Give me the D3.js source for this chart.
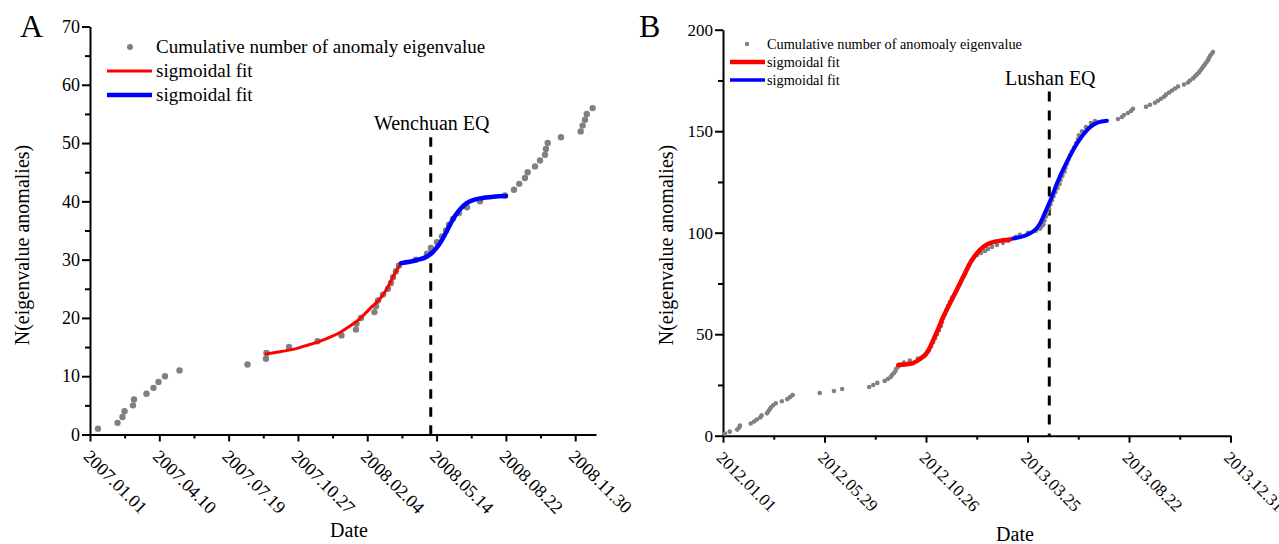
<!DOCTYPE html>
<html>
<head>
<meta charset="utf-8">
<script src="https://cdn.jsdelivr.net/npm/d3@7"></script>
<style>
body { margin: 0; background: #fff; }
svg { display: block; }
svg text { font-family: "Liberation Serif", "Times New Roman", serif; }
</style>
</head>
<body>
<svg id="chart" width="1279" height="544"></svg>
<script>
const FONT = '"Liberation Serif", "Times New Roman", serif';

// ---- panel A : Wenchuan (x = days since 2007.01.01) ----
const aTicks = [0, 100, 200, 300, 400, 500, 600, 700];
const aTickLabels = ["2007.01.01", "2007.04.10", "2007.07.19", "2007.10.27",
  "2008.02.04", "2008.05.14", "2008.08.22", "2008.11.30"];
const aYTicks = [0, 10, 20, 30, 40, 50, 60, 70];
const aPoints = [
  [11.5, 1], [39.7, 2], [46.9, 3], [49.8, 4], [62, 5], [63.5, 6], [81.5, 7], [91.6, 8],
  [98.8, 9], [108.2, 10], [129.1, 11], [227.2, 12], [253.9, 13], [254.6, 14], [287.1, 15],
  [328.2, 16], [362.8, 17], [383.7, 18], [384.5, 19], [390.9, 20], [410.4, 21], [412.6, 22],
  [415.5, 23], [422.7, 24], [429.9, 25], [434.2, 26], [437.1, 27], [441.4, 28], [445.8, 29],
  [470.3, 30], [486.2, 31], [491.9, 32], [500.6, 33], [507.8, 34], [513.6, 35], [517.9, 36],
  [523.7, 37], [532.3, 38], [543.9, 39], [562.6, 40], [598.7, 41], [611.7, 42], [619.3, 43],
  [627.5, 44], [631.4, 45], [642, 46], [649.2, 47], [656.4, 48], [657.8, 49], [660.3, 50],
  [679.5, 51], [707.9, 52], [710.8, 53], [714.1, 54], [716.7, 55], [725.2, 56]
];
const aRedFit = [
  [253.9, 13.8], [274.1, 14.2], [292.8, 14.6], [310.2, 15.2], [327.5, 15.8], [346.2, 16.7],
  [360.6, 17.5], [375, 18.6], [389.5, 19.9], [403.9, 21.6], [418.4, 23.3], [428.4, 25],
  [437.1, 27], [442.9, 28.3], [448.6, 29.3]
];
const aBlueFit = [
  [448.6, 29.4], [470.3, 29.9], [485.7, 30.5], [492.9, 31.1], [499.1, 31.9], [504.9, 32.8],
  [510.7, 34], [516.9, 35.4], [522.9, 36.8], [529, 37.9], [535.2, 38.8], [543.4, 39.7],
  [552.5, 40.2], [562.6, 40.5], [581.8, 40.8], [600.1, 40.9]
];
const aQuake = 491.6;

// ---- panel B : Lushan (x = days since 2012.01.01) ----
const bTicks = [0, 150, 300, 450, 600, 750];
const bTickLabels = ["2012.01.01", "2012.05.29", "2012.10.26", "2013.03.25", "2013.08.22", "2013.12.31"];
const bYTicks = [0, 50, 100, 150, 200];
const bPoints = [
  [3, 1], [10, 2], [21, 3], [24, 4], [25, 5], [41, 6], [46, 7], [50, 8], [55, 9], [57, 10],
  [65, 11], [67, 12], [69, 13], [71, 14], [74, 15], [78, 16], [87, 17], [95, 18], [99, 19],
  [103, 20], [143, 21], [164, 22], [176, 23], [216, 24], [222, 25], [228, 26], [239, 27],
  [244, 28], [248, 29], [250, 30], [253, 31], [255, 32], [256, 33], [259, 34], [262, 35],
  [267.5, 36], [276, 37], [288, 38], [297, 39], [300, 40], [301.5, 41], [304.4, 42],
  [307.4, 44], [310.4, 46], [313.3, 48], [316.3, 50], [319.2, 52], [322.2, 54], [323.7, 56],
  [325.1, 58], [328, 60], [330.3, 62], [332.5, 64], [335.5, 66], [338.4, 68], [342.8, 70],
  [345.8, 72], [348.8, 74], [351.7, 76], [354.7, 78], [357.6, 80], [360.6, 82], [363.5, 84],
  [366.5, 86], [370.9, 88], [375.4, 89], [381.3, 90], [387.2, 91], [391.6, 92], [397.5, 93],
  [404.9, 94], [413.8, 95], [421.2, 96], [427.1, 97], [433, 98], [438.9, 99], [450.7, 100],
  [462.5, 101], [468.5, 102], [470.7, 103], [473.6, 104], [475.1, 106], [477.3, 108],
  [479.5, 110], [481.7, 112], [484, 114], [486.2, 116], [488.4, 118], [491.4, 120],
  [494.3, 122], [497.3, 124], [498.8, 126], [501.7, 128], [504.7, 130], [506.1, 132],
  [508.4, 134], [510.6, 136], [512.8, 138], [515.7, 140], [518.7, 142], [521.6, 144],
  [524.6, 146], [526, 148], [530.5, 150], [536.4, 152], [543.8, 154], [549.7, 155],
  [583.7, 156], [589.6, 157], [592.6, 158], [598.5, 159], [603, 160], [605.9, 161],
  [625.1, 162], [631, 163], [638.4, 164], [642.9, 165], [647.3, 166], [651.7, 167],
  [654.7, 168], [659.1, 169], [663.5, 170], [668, 171], [672.4, 172], [681.3, 173],
  [687.2, 174], [690.1, 175], [694.6, 176], [697.5, 177], [700.5, 178], [703.5, 179],
  [705.7, 180], [707.9, 181], [710.1, 182], [712.3, 183], [714.5, 184], [716.7, 185],
  [718.2, 186], [719.7, 187], [721.9, 188], [724.1, 189]
];
const bRedFit = [
  [259.1, 34.8], [269, 35.1], [280.8, 35.8], [291.1, 37.8], [301.5, 41], [313.3, 49],
  [325.6, 58.6], [335.5, 65.2], [345.4, 71.8], [354.7, 78], [365, 84.9], [373.9, 89.3],
  [379.8, 91.6], [390.1, 94.2], [402, 95.6], [413.8, 96.3], [424.1, 96.7]
];
const bBlueFit = [
  [429, 97.2], [448.8, 98.9], [463.6, 102.2], [468.5, 104.5], [477.3, 111], [483.2, 115.5],
  [495, 125.5], [506.9, 134], [518.7, 141.5], [530.5, 147.5], [542.5, 152], [554.2, 154.3],
  [567.5, 155.2]
];
const bQuake = 482.2;

const svg = d3.select("#chart");

function panel(p) {
  const g = svg.append("g");
  const x = d3.scaleLinear().domain(p.xDomain).range(p.xRange);
  const y = d3.scaleLinear().domain(p.yDomain).range(p.yRange);
  const y0 = p.yRange[0], x0 = p.xRange[0];

  const styleAxis = a => {
    a.attr("font-family", FONT).attr("font-size", p.tickFont);
    a.selectAll("path, line").attr("stroke-width", 2).attr("stroke", "#000");
  };

  // minor ticks
  g.append("g").attr("transform", `translate(0,${y0})`)
    .call(d3.axisBottom(x).tickValues(p.xMinor).tickSize(4).tickFormat(""))
    .call(styleAxis).call(a => a.select(".domain").remove());
  g.append("g").attr("transform", `translate(${x0},0)`)
    .call(d3.axisLeft(y).tickValues(p.yMinor).tickSize(5).tickFormat(""))
    .call(styleAxis).call(a => a.select(".domain").remove());

  const xa = g.append("g").attr("transform", `translate(0,${y0})`)
    .call(d3.axisBottom(x).tickValues(p.xTicks).tickSize(7).tickSizeOuter(0)
      .tickFormat((d, i) => p.xLabels[i]))
    .call(styleAxis);
  xa.selectAll("text")
    .attr("x", null).attr("y", null).attr("dy", null)
    .attr("text-anchor", "start")
    .attr("transform", "translate(-8,23) rotate(45)");

  g.append("g").attr("transform", `translate(${x0},0)`)
    .call(d3.axisLeft(y).tickValues(p.yTicks).tickSize(8).tickSizeOuter(0).tickPadding(2))
    .call(styleAxis);

  // quake marker
  g.append("line")
    .attr("x1", x(p.quake)).attr("x2", x(p.quake))
    .attr("y1", y(p.quakeTop)).attr("y2", y(0))
    .attr("stroke", "#000").attr("stroke-width", 3)
    .attr("stroke-dasharray", p.dash);
  g.append("text")
    .attr("x", x(p.quake) + 1).attr("y", y(p.quakeTop) - 7)
    .attr("text-anchor", "middle")
    .attr("font-size", 20)
    .text(p.quakeLabel);

  // points
  g.append("g").attr("fill", "#808080")
    .selectAll("circle").data(p.points).join("circle")
    .attr("cx", d => x(d[0])).attr("cy", d => y(d[1])).attr("r", p.r);

  const line = d3.line().x(d => x(d[0])).y(d => y(d[1])).curve(d3.curveMonotoneX);
  g.append("path").datum(p.red).attr("d", line)
    .attr("fill", "none").attr("stroke", "#ff0000").attr("stroke-width", p.redW)
    .attr("stroke-linecap", "round");
  g.append("path").datum(p.blue).attr("d", line)
    .attr("fill", "none").attr("stroke", "#0000ff").attr("stroke-width", p.blueW)
    .attr("stroke-linecap", "round");

  // legend
  const L = p.legend;
  const lg = g.append("g").attr("font-size", L.font);
  lg.append("circle").attr("cx", L.dotX).attr("cy", L.y[0]).attr("r", L.dotR).attr("fill", "#808080");
  lg.append("line").attr("x1", L.lineX[0]).attr("x2", L.lineX[1])
    .attr("y1", L.y[1]).attr("y2", L.y[1]).attr("stroke", "#ff0000").attr("stroke-width", L.redW);
  lg.append("line").attr("x1", L.lineX[0]).attr("x2", L.lineX[1])
    .attr("y1", L.y[2]).attr("y2", L.y[2]).attr("stroke", "#0000ff").attr("stroke-width", L.blueW);
  L.texts.forEach((t, i) => {
    lg.append("text").attr("x", L.textX).attr("y", L.y[i]).attr("dy", "0.33em").text(t);
  });

  // titles
  g.append("text")
    .attr("transform", `translate(${p.yTitleX},${p.yTitleY}) rotate(-90)`)
    .attr("text-anchor", "middle").attr("font-size", 20)
    .text("N(eigenvalue anomalies)");
  g.append("text")
    .attr("x", p.xTitleX).attr("y", p.xTitleY)
    .attr("text-anchor", "middle").attr("font-size", 20)
    .text("Date");
  g.append("text")
    .attr("x", p.tagX).attr("y", 37)
    .attr("font-size", 32)
    .text(p.tag);
}

panel({
  tag: "A", tagX: 20,
  xDomain: [0, 730], xRange: [90, 596],
  yDomain: [0, 70], yRange: [434.5, 26.5],
  xTicks: aTicks, xLabels: aTickLabels, xMinor: aTicks.map(d => d + 50).filter(d => d < 730),
  yTicks: aYTicks, yMinor: aYTicks.slice(0, -1).map(d => d + 5),
  tickFont: 18,
  points: aPoints, r: 3.2, red: aRedFit, blue: aBlueFit, redW: 3, blueW: 4.5,
  quake: aQuake, quakeTop: 51, quakeLabel: "Wenchuan EQ", dash: "9.5,8.5",
  legend: {
    font: 19, dotX: 130, dotR: 3, lineX: [107, 152], textX: 156, y: [47, 71, 95],
    redW: 3, blueW: 4.5,
    texts: ["Cumulative number of anomaly eigenvalue", "sigmoidal fit", "sigmoidal fit"]
  },
  yTitleX: 29, yTitleY: 245, xTitleX: 349, xTitleY: 537
});

panel({
  tag: "B", tagX: 639,
  xDomain: [0, 750], xRange: [723, 1230.5],
  yDomain: [0, 200], yRange: [435.7, 29.7],
  xTicks: bTicks, xLabels: bTickLabels, xMinor: bTicks.slice(0, -1).map(d => d + 75),
  yTicks: bYTicks, yMinor: bYTicks.slice(0, -1).map(d => d + 25),
  tickFont: 17,
  points: bPoints, r: 2.3, red: bRedFit, blue: bBlueFit, redW: 4.5, blueW: 4,
  quake: bQuake, quakeTop: 169.5, quakeLabel: "Lushan EQ", dash: "10,9",
  legend: {
    font: 14.3, dotX: 747, dotR: 2.2, lineX: [730, 765], textX: 767, y: [44, 62, 80],
    redW: 4.5, blueW: 3.3,
    texts: ["Cumulative number of anomoaly eigenvalue", "sigmoidal fit", "sigmoidal fit"]
  },
  yTitleX: 673, yTitleY: 245, xTitleX: 1015, xTitleY: 541
});
</script>
</body>
</html>
